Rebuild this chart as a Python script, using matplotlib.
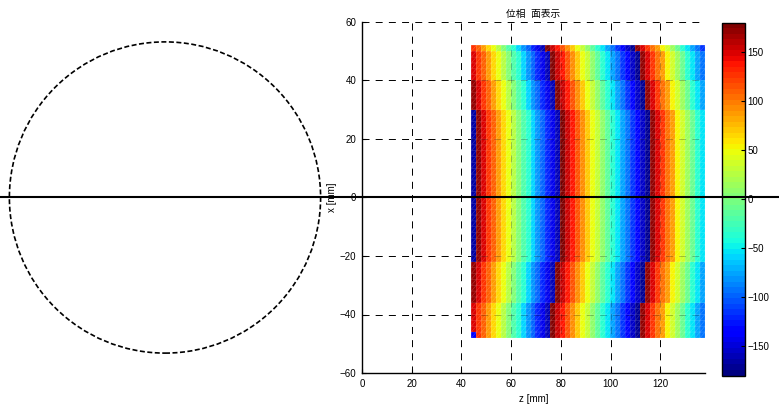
import numpy as np
import matplotlib
matplotlib.use('Agg')
import matplotlib.pyplot as plt
import matplotlib.tri as mtri
from matplotlib.lines import Line2D
from matplotlib.patches import Circle
from matplotlib.transforms import blended_transform_factory

plt.rcParams['font.family'] = ['Liberation Sans', 'Noto Sans CJK JP']
plt.rcParams['lines.scale_dashes'] = False

# measurement grid [mm]
z_edges = np.arange(44, 139, 2)
x_edges = np.arange(-48, 53, 2)

# phase [deg] along the centre rows, one value per 2 mm column
# (three extra columns on the right for the shifted rows)
PHASE_CENTER = [-165, 170, 150, 128, 108, 87, 66, 45, 24, 3,
                -17, -38, -59, -80, -100, -121, -142, -163, 175, 155,
                135, 115, 95, 72, 50, 30, 10, -12, -35, -55,
                -75, -95, -115, -135, -155, -172, 170, 148, 126, 105,
                85, 55, 35, 12, -10, -35, -55, -75, -95, -115]

# wavefront lag of each row in columns, bottom row (x=-47) to top row (x=51)
ROW_SHIFT = [-2] * 6 + [-1] * 7 + [0] * 26 + [-1] * 5 + [-2] * 5 + [-3] * 1

APERTURE_R = 53.2

ncol = len(z_edges) - 1
phase = np.array([[PHASE_CENTER[c - s] for c in range(ncol)] for s in ROW_SHIFT])
phase[0, 0] = -140

fig = plt.figure(figsize=(7.79, 4.08), dpi=100)
W, H = 779, 408

ax = fig.add_axes([362 / W, (H - 373) / H, 343 / W, 351 / H])
cmap = plt.get_cmap('jet', 64)

# split each cell into two triangles, like a MATLAB patch surface
Z, X = np.meshgrid(z_edges, x_edges)
nz = len(z_edges)
tris = []
fcols = []
for j in range(len(x_edges) - 1):
    for i in range(ncol):
        bl = j * nz + i
        br = bl + 1
        tl = bl + nz
        tr = tl + 1
        tris.append([bl, br, tr])
        tris.append([bl, tr, tl])
        fcols += [phase[j, i], phase[j, i]]
tri = mtri.Triangulation(Z.ravel(), X.ravel(), np.array(tris))
pc = ax.tripcolor(tri, facecolors=np.array(fcols), cmap=cmap, vmin=-180, vmax=180,
                  edgecolors='none', zorder=2)
ax.triplot(tri, color='w', linewidth=0.4, alpha=0.22, zorder=2.5)

dash = (0, (5, 4.5))
ax.set_xlim(0, 138)
ax.set_ylim(-60, 60)
ax.set_xticks(np.arange(0, 121, 20))
ax.set_yticks(np.arange(-60, 61, 20))
ax.grid(True, color='k', linestyle=dash, linewidth=0.7)
ax.set_axisbelow(True)
# faint grid showing through the surface
for v in range(20, 121, 20):
    ax.axvline(v, color='k', linestyle=dash, linewidth=0.7, alpha=0.25, zorder=3)
for h in (-40, -20, 20, 40):
    ax.axhline(h, color='k', linestyle=dash, linewidth=0.7, alpha=0.25, zorder=3)

ax.spines['top'].set_visible(False)
ax.spines['right'].set_visible(False)
ax.spines['left'].set_linewidth(1.0)
ax.spines['bottom'].set_linewidth(1.0)
ax.tick_params(direction='in', length=3, labelsize=7, pad=4)
ax.set_title('位相  面表示', fontsize=7, pad=4)
ax.set_xlabel('z [mm]', fontsize=7, labelpad=4)
ax.set_ylabel('x [mm]', fontsize=7, labelpad=2)

cax = fig.add_axes([722 / W, (H - 375.5) / H, 23 / W, 353 / H])
cb = fig.colorbar(pc, cax=cax)
cb.set_ticks(np.arange(-150, 151, 50))
cb.outline.set_linewidth(1.0)
cax.tick_params(direction='in', length=3, labelsize=7, pad=2)

# aperture outline on the left
axl = fig.add_axes([0, (H - 373) / H, 330 / W, 351 / H])
half = 165 / (351 / 120)
axl.set_xlim(-half, half)
axl.set_ylim(-60, 60)
axl.axis('off')
axl.add_patch(Circle((0, 0), APERTURE_R, fill=False, color='k', linewidth=1.2,
                     linestyle=(0, (3.6, 1.8)), clip_on=False))

# axis line x = 0 across the whole figure
fig.add_artist(Line2D([0, 1], [0, 0], color='k', linewidth=1.5,
                      transform=blended_transform_factory(fig.transFigure, ax.transData)))

fig.savefig('out.png', dpi=100)
